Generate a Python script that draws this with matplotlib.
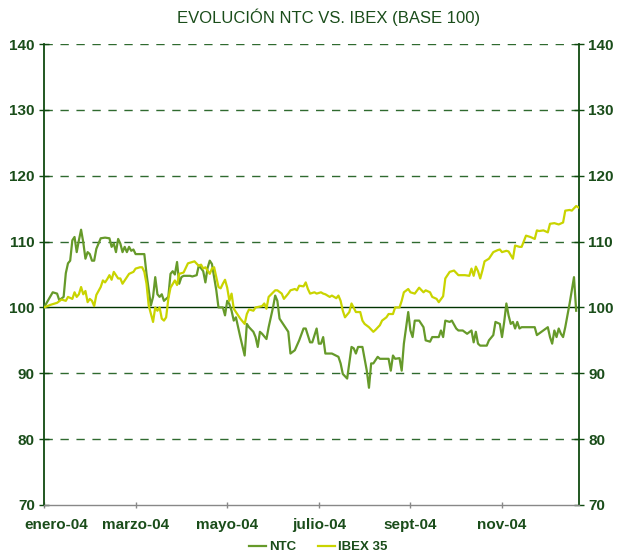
import matplotlib
matplotlib.use('Agg')
import matplotlib.pyplot as plt
import matplotlib.transforms as mtransforms

plt.rcParams['font.family'] = ['Liberation Sans', 'DejaVu Sans']

# DATA (x = trading day of 2004, base 100)
ntc_day = [0, 4, 6, 7, 9, 10, 11, 12, 13, 14, 15, 16, 17, 18, 19, 20, 21, 22, 23, 24,
           26, 28, 30, 31, 32, 33, 34, 35, 36, 37, 38, 39, 40, 41, 42, 46, 47, 49, 50, 51,
           52, 53, 54, 55, 57, 58, 59, 60, 61, 62, 63, 64, 67, 68, 70, 71, 73, 74, 75, 76,
           77, 78, 79, 80, 82, 83, 84, 85, 86, 87, 88, 90, 92, 93, 94, 96, 97, 98, 99, 100,
           102, 103, 105, 106, 107, 108, 110, 112, 113, 115, 117, 119, 120, 122, 123, 125, 126, 127, 128, 129,
           132, 135, 136, 137, 139, 141, 142, 143, 144, 146, 148, 149, 150, 151, 153, 154, 158, 159, 160, 161,
           163, 164, 165, 167, 168, 169, 170, 172, 174, 175, 177, 178, 181, 182, 183, 184, 186, 187, 189, 190,
           192, 194, 196, 197, 198, 199, 200, 203, 204, 206, 207, 209, 210, 211, 212, 213, 214, 215, 216, 217,
           218, 219, 225, 226, 231, 232, 233, 234, 235, 236, 237, 238, 239, 241, 243, 244]
ntc_val = [100.0, 102.3, 102.1, 101.1, 101.6, 105.2, 106.7, 107.1, 110.2, 110.7, 108.4, 110.2, 111.8, 109.9, 107.4, 108.4, 108.1, 107.1, 107.1, 108.9,
           110.5, 110.6, 110.5, 109.2, 109.7, 108.4, 110.4, 109.7, 108.4, 109.2, 108.4, 109.2, 108.6, 108.8, 108.1, 108.1, 105.1, 100.3, 101.6, 104.6,
           102.0, 101.6, 102.0, 101.0, 101.6, 105.1, 105.5, 105.0, 106.9, 103.6, 104.6, 104.8, 104.8, 104.7, 104.9, 106.4, 105.5, 103.8, 106.0, 107.1,
           106.6, 104.6, 102.6, 100.0, 100.0, 98.8, 101.0, 100.5, 99.5, 98.0, 98.5, 95.5, 92.7, 97.5, 97.0, 96.3, 95.5, 94.0, 96.3, 96.0,
           95.2, 97.0, 100.0, 101.8, 101.0, 98.3, 97.3, 96.3, 93.0, 93.5, 95.0, 96.8, 96.8, 94.7, 94.7, 96.8, 94.5, 94.5, 95.5, 93.0,
           93.0, 92.5, 91.5, 89.9, 89.2, 94.0, 93.8, 93.0, 94.0, 94.0, 90.4, 87.8, 91.5, 91.5, 92.5, 92.2, 92.2, 90.4, 92.7, 92.2,
           92.3, 90.4, 94.5, 99.3, 96.5, 95.5, 98.0, 98.0, 97.0, 95.0, 94.8, 95.5, 95.5, 96.5, 95.5, 98.0, 97.8, 98.0, 96.8, 96.5,
           96.5, 96.0, 96.5, 94.7, 96.3, 94.5, 94.2, 94.2, 95.0, 95.8, 97.8, 97.5, 95.5, 97.8, 100.6, 98.8, 97.5, 97.8, 96.8, 97.8,
           96.8, 97.0, 97.0, 95.8, 97.0, 95.5, 94.5, 96.5, 95.5, 96.8, 96.0, 95.5, 97.0, 100.6, 104.6, 99.5]

ibex_day = [0, 3, 6, 8, 10, 11, 13, 14, 15, 16, 17, 18, 19, 20, 21, 22, 23, 24, 26, 27,
            28, 29, 30, 31, 32, 34, 35, 36, 38, 39, 41, 42, 44, 45, 46, 47, 48, 50, 51, 52,
            53, 54, 55, 56, 57, 58, 60, 61, 62, 63, 64, 66, 67, 69, 71, 72, 73, 74, 75, 76,
            77, 78, 80, 81, 82, 83, 84, 85, 86, 87, 88, 90, 92, 93, 94, 96, 97, 100, 101, 102,
            103, 106, 107, 109, 110, 112, 113, 115, 116, 117, 119, 120, 121, 122, 124, 125, 127, 128, 129, 131,
            132, 134, 135, 136, 137, 138, 140, 141, 143, 145, 146, 147, 149, 151, 152, 154, 155, 157, 158, 160,
            161, 163, 164, 165, 167, 168, 170, 172, 174, 175, 177, 178, 180, 181, 183, 184, 186, 188, 190, 193,
            195, 196, 197, 198, 199, 200, 201, 202, 204, 206, 208, 209, 210, 212, 213, 215, 216, 218, 219, 221,
            223, 225, 226, 227, 229, 231, 232, 234, 236, 238, 239, 241, 242, 244, 245]
ibex_val = [100.0, 100.4, 100.7, 101.2, 101.0, 101.6, 101.3, 102.3, 101.6, 102.0, 103.1, 102.0, 102.5, 100.8, 101.3, 101.0, 100.2, 101.9, 103.1, 104.1,
            103.8, 104.3, 104.9, 104.2, 105.4, 104.4, 104.4, 103.6, 104.6, 105.1, 105.4, 105.9, 106.1, 106.1, 105.4, 103.6, 100.3, 97.8, 100.0, 99.5,
            100.0, 98.3, 98.0, 98.5, 101.3, 103.0, 104.1, 103.4, 105.1, 105.2, 105.3, 106.7, 106.8, 107.0, 106.3, 106.5, 105.9, 106.1, 105.6, 105.1,
            105.9, 106.1, 103.1, 102.9, 103.6, 104.2, 103.0, 101.0, 102.1, 99.8, 99.3, 98.3, 97.5, 99.0, 99.7, 99.5, 100.0, 100.2, 100.6, 99.8,
            101.6, 102.6, 102.6, 102.1, 101.3, 102.1, 102.6, 102.8, 102.6, 103.3, 103.2, 103.8, 102.8, 102.1, 102.3, 102.1, 102.3, 102.1, 102.0, 101.6,
            101.8, 101.4, 101.8, 101.0, 99.5, 98.5, 99.3, 100.6, 99.3, 99.3, 98.0, 97.5, 97.0, 96.3, 96.6, 97.3, 98.0, 98.5, 99.0, 99.0,
            100.0, 100.0, 101.0, 102.3, 102.8, 102.3, 102.1, 103.0, 102.3, 102.6, 102.3, 101.6, 101.3, 100.8, 101.7, 104.4, 105.4, 105.6, 104.9, 104.9,
            104.8, 105.9, 104.8, 106.2, 105.5, 104.4, 105.6, 107.0, 107.4, 108.4, 108.7, 108.8, 108.4, 108.6, 108.5, 107.4, 109.4, 109.2, 109.2, 110.9,
            110.7, 110.4, 111.7, 111.6, 111.7, 111.4, 112.7, 112.8, 112.6, 112.9, 114.7, 114.8, 114.7, 115.4, 115.2]

tick_days = [0, 42, 84, 126, 168, 210]
tick_labels = ['enero-04', 'marzo-04', 'mayo-04', 'julio-04', 'sept-04', 'nov-04']
y_ticks = [70, 80, 90, 100, 110, 120, 130, 140]

dark = '#0f4a0f'
text_col = '#1a4d1a'

fig = plt.figure(figsize=(6.18, 5.53), dpi=100)
ax = fig.add_axes([0.0712, 0.0868, 0.8657, 0.8336])

for y in y_ticks[1:]:
    if y == 100:
        ax.axhline(y, color='#003300', lw=1.0, zorder=1)
    else:
        ax.axhline(y, color='#2f6a2f', lw=1.0, linestyle=(0, (6, 5.5)), zorder=1)

ax.plot(ntc_day, ntc_val, color='#669a2a', lw=1.6, label='NTC', zorder=3)
ax.plot(ibex_day, ibex_val, color='#c9d400', lw=1.6, label='IBEX 35', zorder=3)

ax.set_xlim(0, 245.3)
ax.set_ylim(70, 140)
ax.set_yticks(y_ticks)
ax.set_xticks(tick_days)
ax.set_xticklabels(tick_labels)

ax.spines['top'].set_visible(False)
ax.spines['left'].set_color(dark)
ax.spines['left'].set_linewidth(1.3)
ax.spines['right'].set_color(dark)
ax.spines['right'].set_linewidth(1.3)
ax.spines['bottom'].set_color('#888888')
ax.spines['bottom'].set_linewidth(1.0)

ax.tick_params(axis='y', direction='inout', length=7, width=1, color=dark,
               labelsize=11, labelcolor=text_col, pad=3, right=True, labelright=True)
ax.tick_params(axis='x', direction='inout', length=5, width=1, color='#888888',
               labelsize=11, labelcolor=text_col, pad=7)
for lab in ax.get_xticklabels() + ax.get_yticklabels():
    lab.set_fontweight('bold')

# first date label sits a little to the right in the original
first = ax.get_xticklabels()[0]
first.set_transform(first.get_transform() +
                    mtransforms.ScaledTranslation(12 / 100, 0, fig.dpi_scale_trans))

fig.suptitle('EVOLUCIÓN NTC VS. IBEX (BASE 100)', x=0.532, y=0.985,
             fontsize=12, color=text_col)

leg = fig.legend(loc='lower center', bbox_to_anchor=(0.515, -0.022), ncol=2,
                 frameon=False, fontsize=9.5, handlelength=1.3, handletextpad=0.25,
                 columnspacing=1.6)
for t in leg.get_texts():
    t.set_fontweight('bold')
    t.set_color(text_col)

fig.savefig('out.png', dpi=100)
